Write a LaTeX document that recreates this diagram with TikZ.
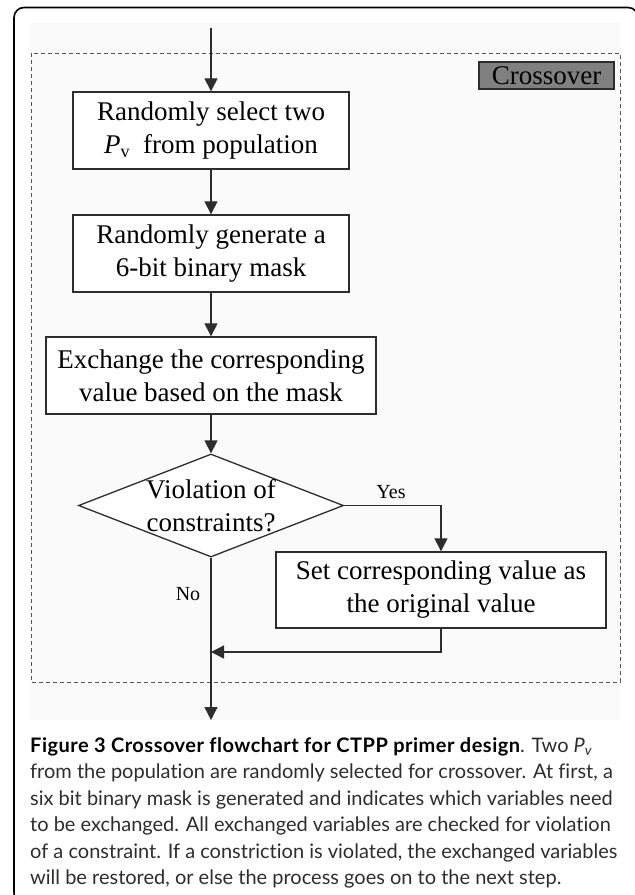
\documentclass[tikz,border=0pt]{standalone}
\usepackage{fontspec}
\setmainfont{Liberation Serif}
\newfontfamily\capfont[Ligatures={NoCommon,NoDiscretionary}]{Lato}
\usetikzlibrary{shapes.geometric,arrows.meta}
\definecolor{bgc}{RGB}{250,250,250}
\definecolor{linec}{RGB}{45,45,45}
\definecolor{capc}{RGB}{45,45,45}
\begin{document}
\begin{tikzpicture}[x=1pt,y=-1pt,
  flow/.style={draw=linec, line width=1.3pt, -{Triangle[length=13pt,width=13pt]}},
  stepbox/.style={draw=linec, line width=1.4pt, fill=white, align=center,
    font=\fontsize{27}{33}\selectfont, inner sep=0pt},
  lbl/.style={font=\fontsize{20}{22}\selectfont, inner sep=0pt},
  capline/.style={anchor=base west, inner sep=0pt, text=capc,
    font=\capfont\fontsize{20}{26}\selectfont}
]
\useasboundingbox (0,0) rectangle (635,895);
% outer frame
\begin{scope}
\clip (0,0) rectangle (635,895);
\draw[line width=1.6pt, rounded corners=10pt] (14,7.5) rectangle (638,903);
\end{scope}
% background and dashed group
\fill[bgc] (30,23) rectangle (620,720);
\draw[linec!80, line width=0.9pt, dash pattern=on 4pt off 3pt] (31,53) rectangle (620,682);
\node[draw=linec, line width=1.2pt, fill=black!50, minimum width=135pt, minimum height=27pt,
  inner sep=0pt, font=\fontsize{27}{30}\selectfont] (cx) at (546.5,75.5) {Crossover};
% steps
\coordinate (start) at (211,28);
\node[stepbox, minimum width=276pt, minimum height=77pt] (b1) at (211,130.5)
  {Randomly select two\\{\itshape P}\raisebox{-0.35ex}{\fontsize{18}{18}\selectfont v}\ \ from population};
\node[stepbox, minimum width=276pt, minimum height=77pt] (b2) at (211,253.5)
  {Randomly generate a\\6-bit binary mask};
\node[stepbox, minimum width=330pt, minimum height=77pt] (b3) at (211,375.5)
  {Exchange the corresponding\\value based on the mask};
\node[diamond, draw=linec, line width=1.3pt, fill=white, minimum width=265pt, minimum height=103pt,
  inner sep=0pt] (d) at (211,505.5) {};
\node[align=center, inner sep=0pt, font=\fontsize{27}{33}\selectfont] (dt) at (d.center)
  {Violation of\\constraints?};
\node[stepbox, minimum width=330pt, minimum height=76pt] (b4) at (441,590)
  {Set corresponding value as\\the original value};
\coordinate (m) at (211,652);
\coordinate (end) at (211,720);
% connectors
\draw[flow] (start) -- (b1);
\draw[flow] (b1) -- (b2);
\draw[flow] (b2) -- (b3);
\draw[flow] (b3) -- (d);
\draw[flow] (d.east) -| (b4.north);
\draw[flow] (b4.south) |- (m);
\draw[flow] (d.south) -- (end);
\node[lbl] (yes) at (391,492) {Yes};
\node[lbl] (no) at (188,594) {No};
% caption
\node[capline] (c1) at (30,752) {{\color{black}\bfseries\addfontfeature{LetterSpace=2.5}Figure 3 Crossover flowchart for CTPP primer design}. Two {\itshape P\textsubscript{v}}};
\node[capline] (c2) at (30,778.5) {from the population are randomly selected for crossover. At first, a};
\node[capline] (c3) at (30,805) {six bit binary mask is generated and indicates which variables need};
\node[capline] (c4) at (30,831.5) {to be exchanged. All exchanged variables are checked for violation};
\node[capline] (c5) at (30,858) {of a constraint. If a constriction is violated, the exchanged variables};
\node[capline] (c6) at (30,884.5) {will be restored, or else the process goes on to the next step.};
\end{tikzpicture}
\end{document}
